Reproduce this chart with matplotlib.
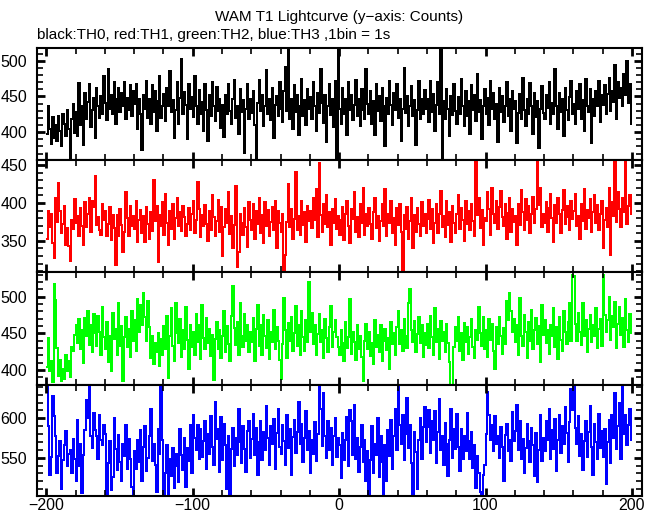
import numpy as np
import matplotlib
matplotlib.use("Agg")
import matplotlib.pyplot as plt
from matplotlib.ticker import MultipleLocator

plt.rcParams["font.family"] = ["Liberation Sans", "DejaVu Sans"]

# 1 s bins from -200 s to +200 s
edges = np.arange(-200, 201)

th0 = [
    398, 437, 405, 384, 421, 392, 410, 387, 422, 401, 380, 426, 412, 395, 431, 405, 362, 418, 440, 399,
    428, 395, 469, 410, 436, 382, 455, 418, 442, 468, 407, 431, 448, 392, 462, 437, 420, 451, 426, 478,
    441, 417, 489, 433, 452, 425, 470, 411, 446, 462, 428, 455, 437, 470, 418, 448, 431, 466, 422, 458,
    439, 467, 405, 446, 426, 375, 452, 433, 471, 420, 447, 412, 466, 428, 458, 401, 443, 479, 420, 436,
    454, 416, 462, 437, 485, 428, 445, 392, 431, 470, 412, 448, 503, 425, 456, 438, 390, 467, 432, 449,
    421, 478, 436, 412, 459, 426, 442, 402, 467, 431, 388, 452, 423, 470, 437, 415, 463, 429, 447, 406,
    438, 393, 452, 425, 468, 430, 412, 446, 473, 420, 437, 398, 461, 428, 445, 371, 432, 467, 418, 446,
    427, 458, 410, 364, 441, 473, 429, 452, 408, 436, 487, 425, 447, 417, 462, 392, 438, 451, 422, 470,
    433, 414, 458, 491, 430, 521, 418, 447, 405, 466, 428, 452, 396, 437, 475, 423, 445, 410, 461, 432,
    449, 418, 470, 436, 402, 455, 427, 489, 441, 413, 452, 386, 437, 468, 424, 446, 407, 471, 360, 521,
    433, 412, 462, 425, 446, 396, 470, 431, 452, 417, 438, 473, 422, 447, 408, 460, 431, 418, 488, 440,
    426, 457, 412, 443, 396, 468, 429, 451, 415, 462, 436, 380, 448, 425, 472, 438, 410, 455, 431, 467,
    420, 446, 388, 432, 490, 427, 451, 408, 437, 465, 422, 445, 382, 431, 472, 419, 447, 426, 459, 432,
    447, 414, 471, 428, 453, 402, 438, 470, 425, 521, 360, 443, 418, 460, 432, 395, 451, 424, 468, 430,
    412, 449, 426, 475, 437, 408, 458, 422, 443, 397, 466, 431, 452, 416, 481, 428, 445, 390, 437, 461,
    425, 448, 410, 472, 433, 455, 418, 440, 386, 462, 428, 451, 414, 437, 470, 422, 446, 401, 458, 432,
    444, 385, 427, 453, 418, 476, 431, 408, 447, 425, 469, 436, 397, 455, 421, 443, 378, 432, 465, 427,
    418, 452, 434, 470, 412, 441, 425, 488, 436, 404, 455, 428, 446, 395, 462, 431, 417, 449, 472, 426,
    440, 412, 458, 433, 467, 419, 445, 402, 474, 437, 428, 461, 385, 446, 423, 458, 436, 471, 414, 452,
    438, 466, 425, 453, 476, 430, 457, 442, 494, 418, 470, 448, 462, 437, 481, 452, 500, 441, 468, 412,
]

th1 = [
    352, 389, 368, 385, 347, 328, 407, 375, 426, 390, 360, 372, 396, 345, 367, 343, 324, 378, 366, 405,
    374, 383, 356, 394, 370, 345, 401, 368, 385, 406, 362, 403, 395, 436, 371, 382, 365, 358, 399, 377,
    390, 356, 372, 395, 351, 384, 367, 318, 384, 356, 392, 371, 335, 362, 415, 380, 357, 396, 370, 383,
    366, 402, 348, 377, 391, 360, 383, 349, 395, 372, 352, 388, 363, 430, 376, 396, 322, 384, 370, 401,
    358, 412, 374, 345, 389, 366, 399, 352, 380, 406, 370, 388, 363, 396, 381, 357, 372, 394, 365, 386,
    403, 361, 378, 428, 392, 355, 384, 369, 397, 372, 350, 389, 365, 410, 381, 356, 376, 404, 362, 395,
    330, 368, 392, 374, 414, 359, 383, 341, 371, 422, 315, 336, 386, 374, 358, 394, 368, 342, 401, 378,
    365, 398, 352, 389, 372, 407, 360, 384, 347, 401, 370, 391, 356, 375, 395, 365, 403, 341, 390, 374,
    362, 386, 308, 332, 375, 425, 368, 392, 353, 379, 441, 364, 383, 358, 402, 371, 388, 349, 396, 376,
    390, 367, 406, 377, 418, 355, 453, 384, 362, 399, 372, 410, 368, 388, 345, 392, 374, 405, 366, 383,
    358, 377, 395, 351, 386, 403, 370, 347, 392, 379, 414, 362, 381, 355, 399, 373, 420, 358, 386, 369,
    394, 372, 352, 388, 406, 367, 383, 350, 376, 398, 369, 419, 357, 386, 374, 402, 361, 380, 345, 393,
    371, 398, 362, 310, 384, 366, 395, 352, 376, 407, 341, 384, 362, 393, 372, 356, 401, 369, 386, 360,
    379, 404, 366, 392, 347, 374, 398, 361, 385, 416, 368, 383, 355, 402, 371, 388, 349, 396, 374, 360,
    385, 411, 366, 393, 378, 350, 402, 372, 389, 364, 398, 376, 357, 455, 384, 406, 367, 391, 344, 380,
    376, 415, 392, 358, 420, 386, 373, 402, 366, 395, 416, 381, 370, 399, 353, 387, 407, 362, 392, 375,
    383, 344, 399, 371, 417, 388, 364, 405, 378, 396, 360, 385, 408, 373, 392, 455, 397, 420, 368, 385,
    373, 401, 362, 393, 412, 380, 348, 397, 374, 406, 385, 360, 391, 417, 372, 396, 382, 364, 403, 379,
    390, 412, 370, 383, 352, 398, 376, 419, 366, 391, 380, 405, 362, 388, 410, 374, 397, 365, 386, 402,
    340, 378, 393, 368, 420, 332, 401, 383, 456, 375, 414, 392, 368, 407, 388, 457, 372, 396, 410, 385,
]

th2 = [
    404, 443, 398, 412, 383, 518, 495, 430, 392, 414, 385, 402, 388, 420, 398, 412, 390, 431, 426, 448,
    462, 437, 470, 428, 455, 410, 471, 446, 480, 434, 462, 424, 476, 450, 433, 474, 452, 420, 486, 445,
    428, 465, 411, 447, 399, 478, 442, 456, 420, 492, 433, 460, 385, 445, 472, 431, 456, 418, 480, 439,
    468, 426, 497, 452, 488, 461, 505, 472, 440, 494, 458, 416, 446, 408, 437, 425, 451, 406, 442, 420,
    460, 428, 473, 389, 447, 484, 433, 412, 492, 451, 437, 470, 418, 455, 428, 486, 441, 402, 462, 432,
    452, 420, 476, 438, 462, 415, 489, 443, 428, 471, 437, 456, 419, 448, 387, 442, 466, 429, 455, 417,
    447, 481, 425, 460, 436, 412, 473, 515, 457, 434, 466, 421, 492, 447, 431, 476, 440, 462, 425, 452,
    438, 471, 412, 456, 489, 433, 461, 420, 475, 446, 430, 468, 415, 452, 438, 482, 428, 459, 440, 413,
    388, 436, 498, 455, 417, 464, 440, 472, 426, 451, 487, 433, 462, 420, 480, 445, 426, 468, 438, 520,
    452, 478, 436, 461, 421, 449, 476, 438, 455, 417, 470, 443, 425, 459, 487, 432, 452, 468, 445, 431,
    420, 455, 437, 412, 466, 430, 445, 497, 422, 452, 438, 414, 461, 429, 447, 418, 385, 440, 463, 428,
    452, 419, 437, 408, 468, 431, 448, 425, 461, 412, 439, 456, 427, 444, 402, 466, 435, 451, 420, 458,
    481, 435, 455, 426, 470, 447, 430, 492, 510, 455, 438, 467, 425, 449, 472, 437, 461, 418, 450, 434,
    463, 430, 474, 445, 421, 485, 438, 456, 415, 467, 440, 452, 424, 463, 437, 411, 378, 375, 431, 458,
    440, 472, 426, 451, 413, 464, 438, 458, 422, 445, 470, 432, 416, 455, 441, 486, 450, 433, 472, 428,
    455, 418, 470, 441, 463, 426, 402, 458, 436, 472, 446, 422, 457, 435, 494, 468, 505, 480, 452, 469,
    438, 462, 421, 498, 447, 433, 475, 452, 416, 465, 440, 482, 428, 455, 471, 436, 460, 411, 488, 448,
    468, 437, 455, 422, 461, 446, 484, 431, 458, 415, 472, 441, 426, 480, 452, 436, 465, 492, 440, 530,
    528, 463, 440, 478, 452, 434, 491, 446, 468, 425, 456, 475, 438, 462, 447, 485, 430, 456, 470, 433,
    530, 475, 452, 468, 500, 441, 474, 458, 493, 430, 463, 486, 448, 471, 432, 497, 455, 438, 476, 450,
]

th3 = [
    641, 590, 528, 551, 628, 603, 577, 530, 552, 571, 510, 547, 566, 584, 540, 555, 560, 530, 574, 548,
    521, 598, 540, 567, 505, 553, 585, 623, 600, 642, 578, 562, 607, 585, 577, 548, 604, 572, 566, 591,
    580, 500, 543, 571, 509, 526, 600, 561, 534, 579, 545, 520, 567, 552, 592, 536, 574, 548, 513, 499,
    558, 536, 572, 544, 585, 521, 563, 590, 533, 550, 578, 612, 546, 568, 541, 507, 586, 555, 640, 573,
    500, 531, 566, 500, 548, 527, 562, 512, 555, 540, 519, 587, 553, 534, 575, 513, 562, 546, 592, 531,
    604, 575, 560, 592, 548, 586, 551, 571, 597, 536, 580, 555, 603, 563, 541, 621, 574, 587, 532, 602,
    547, 593, 566, 510, 578, 500, 561, 588, 539, 575, 553, 612, 570, 543, 590, 561, 532, 584, 596, 550,
    574, 606, 553, 588, 528, 570, 597, 547, 583, 560, 616, 575, 541, 590, 567, 599, 536, 582, 612, 564,
    555, 592, 571, 541, 604, 562, 587, 528, 576, 598, 556, 583, 621, 568, 593, 544, 575, 609, 560, 584,
    530, 572, 555, 595, 546, 580, 641, 612, 565, 632, 578, 550, 596, 560, 588, 541, 577, 600, 551, 575,
    566, 524, 582, 547, 573, 602, 540, 611, 596, 554, 617, 548, 575, 532, 563, 591, 544, 572, 520, 558,
    500, 547, 590, 531, 568, 553, 601, 526, 578, 544, 502, 566, 520, 585, 552, 598, 536, 577, 612, 560,
    641, 592, 568, 604, 547, 580, 626, 562, 591, 543, 500, 583, 557, 510, 572, 601, 548, 589, 615, 570,
    589, 611, 556, 596, 572, 609, 543, 583, 624, 560, 578, 541, 594, 568, 527, 572, 612, 550, 586, 561,
    605, 564, 533, 587, 548, 577, 559, 607, 571, 549, 583, 537, 566, 512, 552, 530, 507, 500, 528, 541,
    580, 633, 604, 572, 591, 558, 603, 568, 577, 550, 589, 563, 521, 579, 593, 558, 572, 546, 608, 571,
    584, 617, 560, 596, 549, 574, 531, 562, 593, 571, 545, 588, 566, 527, 582, 519, 560, 604, 546, 575,
    559, 596, 573, 612, 548, 585, 561, 599, 533, 572, 604, 556, 590, 567, 614, 582, 545, 595, 637, 610,
    642, 588, 567, 603, 552, 580, 535, 571, 596, 551, 583, 616, 564, 528, 593, 570, 548, 605, 562, 584,
    551, 587, 516, 570, 598, 543, 604, 575, 632, 561, 590, 620, 548, 642, 580, 604, 566, 591, 612, 573,
]

series = [th0, th1, th2, th3]
colors = ["black", "#ff0000", "#00ff00", "#0000ff"]
ylims = [(361, 518.6), (309, 456.6), (379.5, 533.7), (501.4, 642.3)]

W, H = 660, 515
fig = plt.figure(figsize=(W / 100, H / 100), dpi=100)

left_px, right_px = 36.7, 641.5
bounds_px = [47.5, 160, 272, 385, 496]

for i, (vals, col, yl) in enumerate(zip(series, colors, ylims)):
    top, bot = bounds_px[i], bounds_px[i + 1]
    ax = fig.add_axes([left_px / W, 1 - bot / H,
                       (right_px - left_px) / W, (bot - top) / H])
    ax.stairs(vals, edges, color=col, linewidth=1.1, baseline=None,
              antialiased=False)
    ax.set_xlim(-206.5, 206.5)
    ax.set_ylim(*yl)
    ax.xaxis.set_major_locator(MultipleLocator(100))
    ax.xaxis.set_minor_locator(MultipleLocator(20))
    ax.yaxis.set_major_locator(MultipleLocator(50))
    ax.yaxis.set_minor_locator(MultipleLocator(10))
    ax.tick_params(which="both", direction="in", top=True, right=True,
                   labelsize=11.5, colors="black")
    ax.tick_params(which="major", length=6, width=2.0)
    ax.tick_params(which="minor", length=4, width=1.2)
    ax.tick_params(axis="y", pad=7)
    ax.tick_params(axis="x", pad=1.5)
    for sp in ax.spines.values():
        sp.set_linewidth(1.5)
    if i < 3:
        ax.tick_params(labelbottom=False)

fig.text(339 / W, 1 - 20.7 / H, "WAM T1 Lightcurve (y\u2212axis: Counts)",
         ha="center", va="baseline", fontsize=11)
fig.text(left_px / W, 1 - 39.3 / H,
         "black:TH0, red:TH1, green:TH2, blue:TH3 ,1bin = 1s",
         ha="left", va="baseline", fontsize=11)

fig.savefig("out.png", dpi=100)
